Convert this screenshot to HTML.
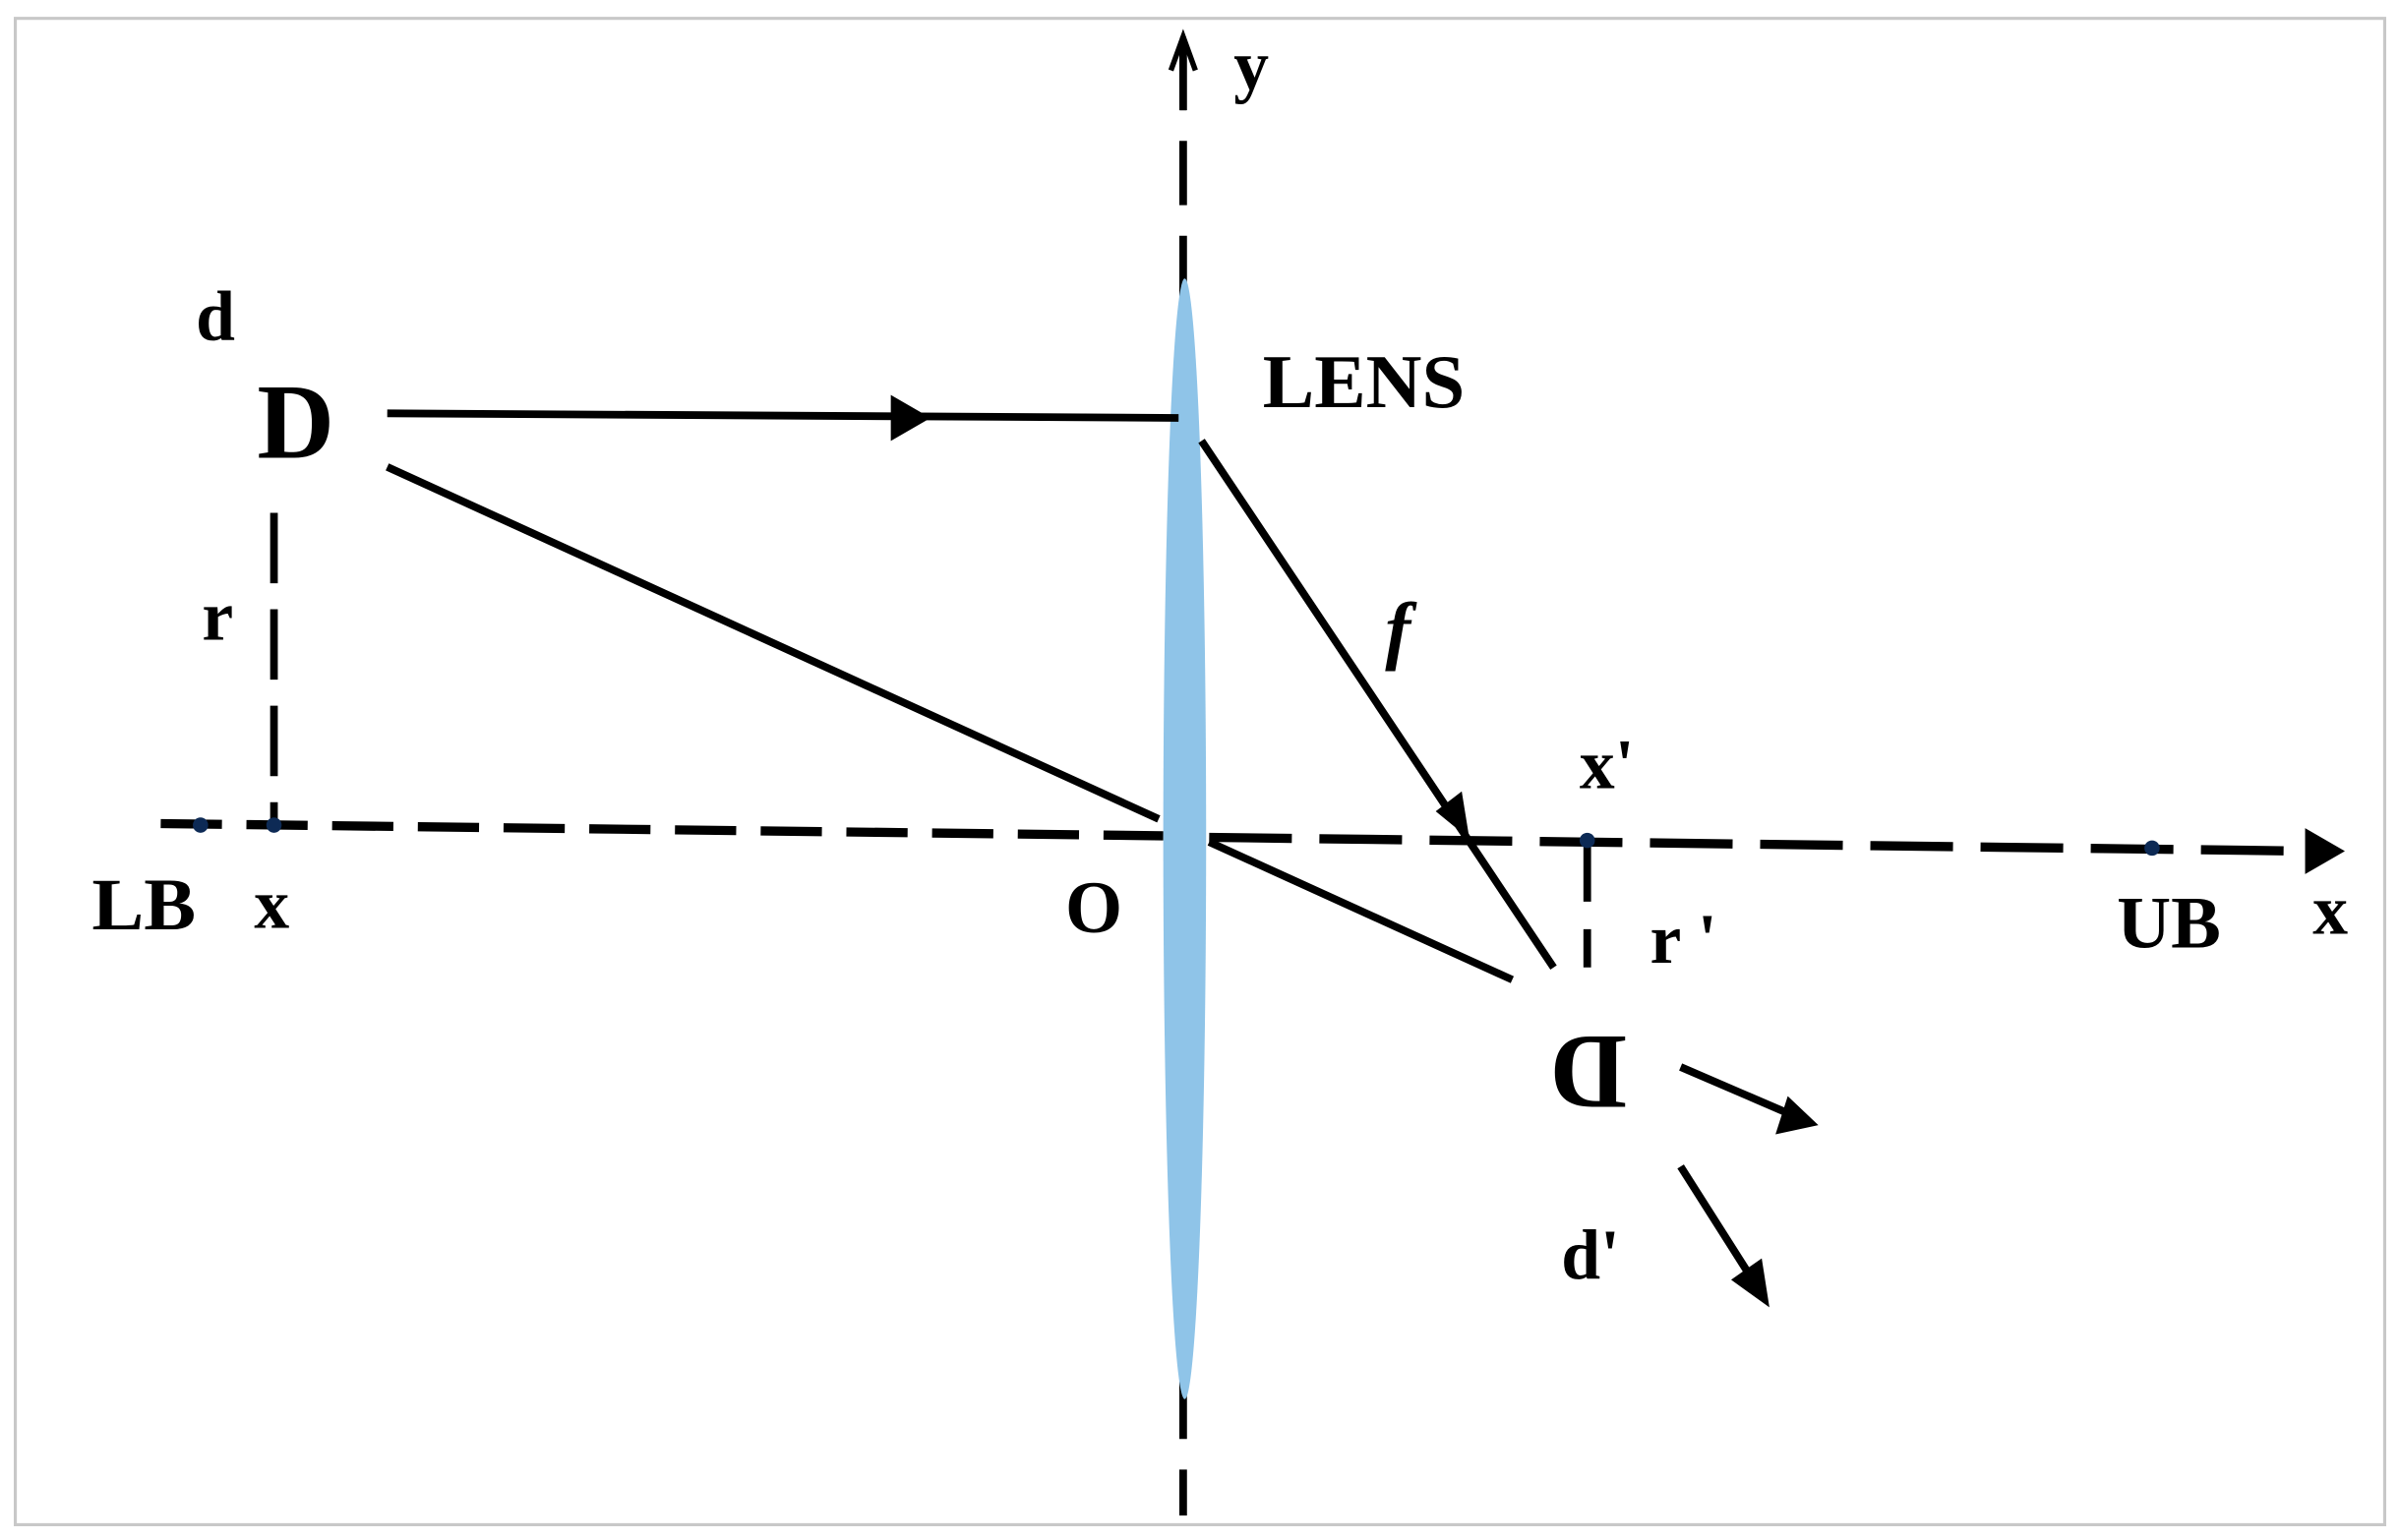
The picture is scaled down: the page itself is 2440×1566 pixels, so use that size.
<!DOCTYPE html>
<html><head><meta charset="utf-8"><style>
html,body{margin:0;padding:0;background:#fff;}
svg{display:block;}
text{font-family:"Liberation Serif","Times New Roman",serif;font-weight:bold;fill:#000;}
</style></head><body>
<svg width="2440" height="1566" viewBox="0 0 1568 1006" preserveAspectRatio="none">
<rect x="10" y="12" width="1548" height="984" fill="#fff" stroke="#c8c8c8" stroke-width="2"/>
<!-- y axis -->
<line x1="773" y1="30" x2="773" y2="990" stroke="#000" stroke-width="5" stroke-dasharray="42,20"/>
<polyline points="765,46 773,24 781,46" fill="none" stroke="#000" stroke-width="3.5"/>
<line x1="773" y1="24" x2="773" y2="72" stroke="#000" stroke-width="4"/>
<!-- x axis -->
<line x1="105" y1="538" x2="760" y2="546" stroke="#000" stroke-width="6" stroke-dasharray="40,16"/>
<line x1="790" y1="547" x2="1510" y2="556" stroke="#000" stroke-width="6" stroke-dasharray="54,18"/>
<polygon points="1506,541 1532,556 1506,571" fill="#000"/>
<!-- lens -->
<ellipse cx="774" cy="548" rx="14" ry="366" fill="#8fc4e8"/>
<!-- dashed verticals -->
<line x1="179" y1="335" x2="179" y2="539" stroke="#000" stroke-width="5" stroke-dasharray="46,17"/>
<line x1="1037" y1="549" x2="1037" y2="632" stroke="#000" stroke-width="5" stroke-dasharray="40,18"/>
<!-- dots -->
<g fill="#0d2a55"><circle cx="131" cy="539" r="5"/><circle cx="179" cy="539" r="5"/><circle cx="1037" cy="549" r="5"/><circle cx="1406" cy="554" r="5"/></g>
<!-- rays -->
<g stroke="#000" stroke-width="5" fill="none">
<line x1="253" y1="270" x2="770" y2="273"/>
<line x1="785" y1="288" x2="1015" y2="632"/>
<line x1="253" y1="305" x2="757" y2="535"/>
<line x1="790" y1="550" x2="988" y2="640"/>
<line x1="1098" y1="697" x2="1170" y2="728"/>
<line x1="1098" y1="762" x2="1145" y2="836"/>
</g>
<g fill="#000">
<polygon points="582,258 608,273 582,288"/>
<polygon points="938,530 960,548 955,517"/>
<polygon points="1188,735 1160,741 1168,716"/>
<polygon points="1156,854 1131,836 1151,822"/>
</g>
<!-- labels -->
<text x="128" y="222" font-size="46">d</text>
<text x="168" y="299" font-size="70">D</text>
<text x="132" y="418" font-size="46">r</text>
<text x="825" y="266" font-size="50" textLength="132" lengthAdjust="spacingAndGlyphs">LENS</text>
<text x="905" y="428" font-size="50" font-style="italic">f</text>
<text x="1032" y="515" font-size="46">x'</text>
<text x="60" y="607" font-size="48" textLength="68" lengthAdjust="spacingAndGlyphs">LB</text>
<text x="166" y="606" font-size="46">x</text>
<text x="696" y="609" font-size="48">O</text>
<text x="1078" y="629" font-size="46">r '</text>
<text x="1383" y="619" font-size="48" textLength="68" lengthAdjust="spacingAndGlyphs">UB</text>
<text x="1511" y="610" font-size="46">x</text>
<text x="806" y="58" font-size="46">y</text>
<text x="1020" y="835" font-size="46">d'</text>
<text transform="translate(1063,677) rotate(180)" font-size="70">D</text>
</svg>
</body></html>
